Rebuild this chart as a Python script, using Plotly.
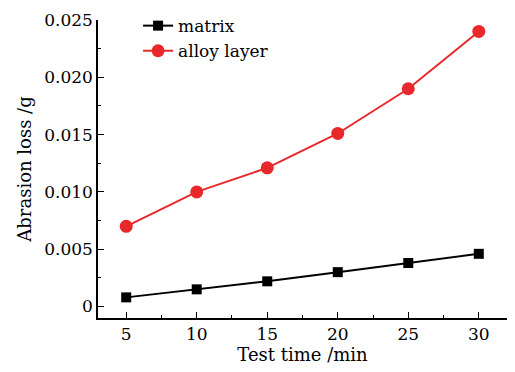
import plotly.graph_objects as go

time_min = [5, 10, 15, 20, 25, 30]
matrix_loss = [0.0008, 0.0015, 0.0022, 0.0030, 0.0038, 0.0046]
alloy_loss = [0.0070, 0.0100, 0.0121, 0.0151, 0.0190, 0.0240]

x_ticks = [5, 10, 15, 20, 25, 30]
y_tick_vals = [0, 0.005, 0.010, 0.015, 0.020, 0.025]
y_tick_text = ["0", "0.005", "0.010", "0.015", "0.020", "0.025"]

FONT = "DejaVu Serif"

fig = go.Figure()
fig.add_trace(go.Scatter(
    x=time_min, y=matrix_loss, name="matrix", mode="lines+markers",
    line=dict(color="black", width=2),
    marker=dict(symbol="square", size=10, color="black"),
))
fig.add_trace(go.Scatter(
    x=time_min, y=alloy_loss, name="alloy layer", mode="lines+markers",
    line=dict(color="#e8282b", width=2),
    marker=dict(symbol="circle", size=13, color="#e8282b"),
))

axis_common = dict(
    showline=True, linecolor="black", linewidth=1.5, mirror=False,
    showgrid=False, zeroline=False,
    ticks="inside", ticklen=6, tickwidth=1.2, tickcolor="black",
    tickfont=dict(family=FONT, size=17, color="black"),
)

fig.update_xaxes(
    range=[3, 32], tickvals=x_ticks,
    minor=dict(ticks="inside", ticklen=3, dtick=2.5, tick0=0, tickcolor="black"),
    title=dict(text="Test time /min", font=dict(family=FONT, size=18, color="black"), standoff=2),
    **axis_common,
)
fig.update_yaxes(
    range=[-0.001, 0.025], tickvals=y_tick_vals, ticktext=y_tick_text,
    minor=dict(ticks="inside", ticklen=3, dtick=0.0025, tick0=0, tickcolor="black"),
    title=dict(text="Abrasion loss /g", font=dict(family=FONT, size=18, color="black"), standoff=8),
    **axis_common,
)

fig.update_layout(
    width=515, height=372,
    margin=dict(l=98, r=8, t=14, b=54),
    paper_bgcolor="white", plot_bgcolor="white",
    font=dict(family=FONT, size=18, color="black"),
    legend=dict(x=0.098, y=1.04, xanchor="left", yanchor="top",
                bgcolor="rgba(0,0,0,0)", font=dict(family=FONT, size=17),
                tracegroupgap=0, itemwidth=30),
    showlegend=True,
)

fig.write_html("out.html", config={"displayModeBar": False},
               post_script="document.body.style.margin='0';")
